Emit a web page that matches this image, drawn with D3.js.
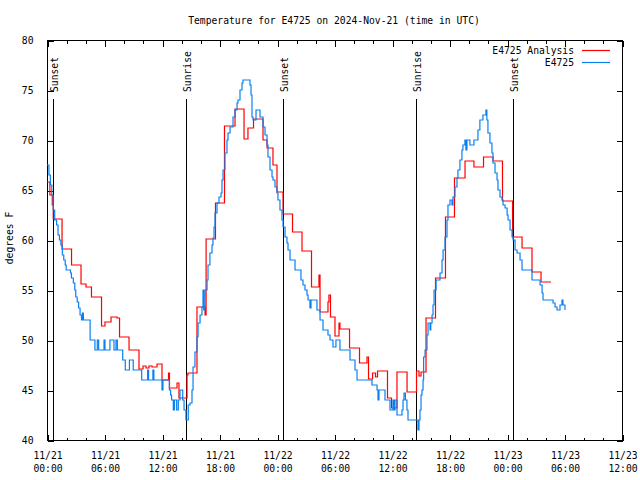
<!DOCTYPE html>
<html>
<head>
<meta charset="utf-8">
<script src="https://cdn.jsdelivr.net/npm/d3@7"></script>
<style>
  html, body { margin: 0; padding: 0; background: #fff; }
  svg { display: block; }
  text { font-family: "DejaVu Sans Mono", "Liberation Mono", monospace; font-size: 9.7px; fill: #000; }
</style>
</head>
<body>
<svg id="chart" width="640" height="480"></svg>
<script>
// Hours since 2024-11-21 00:00 UTC
const obsHours = [0,0.2,0.35,0.5,0.65,0.8,1.0,1.15,1.3,1.45,1.6,1.75,1.9,2.0,2.45,2.55,2.75,2.9,3.0,3.15,3.3,3.45,3.6,3.7,3.8,4.45,4.5,5.0,5.25,5.39,5.95,6.05,6.57,6.99,7.2,7.34,7.9,8.17,8.6,9.0,9.88,10.5,10.6,11.05,11.15,12.0,12.1,12.77,12.9,13.0,13.18,13.29,13.53,13.7,13.88,14.16,14.3,14.5,14.74,14.92,15.13,15.24,15.44,15.65,15.76,15.97,16.17,16.28,16.35,16.49,16.7,16.8,17.0,17.22,17.32,17.43,17.53,17.74,17.95,18.16,18.26,18.37,18.57,18.78,18.89,19.1,19.41,19.62,19.83,19.93,20.14,20.35,20.45,21.18,21.29,21.39,21.5,21.81,22.23,22.54,22.75,22.96,23.06,23.27,23.48,23.58,23.79,24.0,24.1,24.31,24.52,24.63,24.84,25.04,25.15,25.36,25.88,26.5,26.71,26.92,27.13,27.24,27.44,27.55,28.17,28.49,28.8,29.32,29.53,29.84,30.15,30.57,31.62,32.14,32.35,33.91,34.44,34.54,34.64,35.27,35.79,36.1,36.2,36.31,36.52,37.04,37.15,37.25,37.4,37.56,37.67,38.71,38.82,38.92,39.03,39.13,39.24,39.3,39.45,39.65,39.76,39.97,40.05,40.18,40.28,40.39,40.6,41.01,41.22,41.33,41.53,41.74,41.84,42.05,42.26,42.36,42.57,42.78,42.88,43.09,43.3,43.4,43.61,43.71,43.82,44.13,44.55,44.97,45.17,45.49,45.8,45.9,46.01,46.22,46.43,46.54,46.75,46.96,47.06,47.27,47.48,47.59,47.8,48.01,48.11,48.32,48.53,48.63,48.84,49.05,49.36,49.57,50.61,51.45,51.66,51.76,52.8,53.01,53.22,53.53,53.74,53.84,54.05];
const obsTemps = [67.5,66.5,65.5,64.5,63,62,61.5,60.5,60,59.5,58.5,58,57.5,57,56.7,56.2,55.7,55,54.3,53.8,53.2,52.5,52,52.7,52,52,50,49,50,49,50,49,50,49,50,49,48,47,48,47,46,47,46,47,46,45,46,45,44.5,44,43,44,43,44,45,44,43,42,43.5,43.7,45,47.3,48.8,50.3,51.7,52.5,53.3,55,53,55,56,57.5,58.7,59.5,60.2,61.3,62.7,63.7,64.3,64.7,66,67,68.7,70,70.7,71.3,72.3,73,73.7,74,75,75.7,76,75.5,74.5,72.3,72,73,72.3,71.3,70.5,69.5,68.3,67,66.3,66,65.3,64.7,64,63,62,61.3,60.3,59.7,59,58,57,56,55.5,55,54.5,54,53.2,54,53,52,51,50.5,50,49.3,50,49,48,47,46,45.5,45,44,45,44,43,44,43,44,42.5,43,44,44.7,44,43,42,41,42,43,44.5,45,46,48.3,49,50.5,51.7,51,51.7,52.5,53.5,55,56,56.7,58,59,60.3,62,63.5,64,63.5,64.3,65.3,66.2,67,68,69,69.5,70,69,70,69.5,70,71,72,72.5,73,72,70.7,69.7,68.7,67.7,66.7,66,65,64.3,64,63.5,63.2,62.5,62,61,60.3,60,59,58.7,58,57,56,55.5,54.7,54,53.7,53.3,53,53.5,54,53.5,53];

const anaHours = [0,0.3,0.55,0.65,1.57,2.56,3.55,4.07,4.64,5.69,6.05,6.68,7.3,7.57,8.56,9.6,10.02,10.33,10.64,10.96,11.48,12.0,12.68,12.78,13.57,13.77,14.61,14.71,15.65,16.49,16.6,17.58,18.52,19.62,20.56,20.97,21.55,22.54,22.96,23.58,24.0,24.63,25.62,26.61,27.6,28.38,28.49,29.32,29.42,29.58,30.05,30.47,30.57,31.57,32.61,33.39,33.55,33.97,34.28,34.49,35.53,35.95,36.52,37.57,38.56,38.82,39.03,39.55,40.54,41.58,42.52,43.62,44.55,45.55,46.54,47.53,48.58,49.57,50.61,51.55,52.6];
const anaTemps = [65.8,64.5,63.5,62.1,59.1,57.5,55.6,55.3,54.3,51.4,51.8,52.3,52.2,50.3,49,47.1,47.4,47.2,47.4,47.3,47.6,46,46.7,45.2,45.7,44.2,46.5,46.7,53.3,52.5,60.1,63.7,71.4,73.1,70.1,71.2,72.1,70,69.2,67.5,64.8,62.6,60.8,58.9,55.3,56.5,52.8,53.8,54.5,52.3,50.4,51.7,51.1,49.2,47.7,48.3,46.1,46.7,46.3,46.9,44.2,43.2,46.8,44.8,46.9,46.4,46.8,52.2,56.2,62.3,66.2,67.9,67.3,68.3,67.9,63.9,60.3,59.2,56.8,55.8,55.8];

const sunHours = [0.63, 14.5, 24.63, 38.5, 48.63];
const sunLabels = ["Sunset", "Sunrise", "Sunset", "Sunrise", "Sunset"];

const xTickHours = [0, 6, 12, 18, 24, 30, 36, 42, 48, 54, 60];
const xTickDates = ["11/21","11/21","11/21","11/21","11/22","11/22","11/22","11/22","11/23","11/23","11/23"];
const xTickTimes = ["00:00","06:00","12:00","18:00","00:00","06:00","12:00","18:00","00:00","06:00","12:00"];
const xMinorHours = [2,4,8,10,14,16,20,22,26,28,32,34,38,40,44,46,50,52,56,58];
const yTicks = [40, 45, 50, 55, 60, 65, 70, 75, 80];

const titleText = "Temperature for E4725 on 2024-Nov-21 (time in UTC)";
const yLabelText = "degrees F";
const seriesNames = ["E4725 Analysis", "E4725"];
const seriesColors = ["#ff0000", "#0a80f0"];

const L = 47, R = 622, T = 40, B = 440;
const svg = d3.select("#chart");

const x = d3.scaleLinear().domain([0, 60]).range([L, R]);
const y = d3.scaleLinear().domain([40, 80]).range([B, T]);

// Title
svg.append("text").attr("x", 334).attr("y", 24).attr("text-anchor", "middle").text(titleText);

// Y label
svg.append("text")
  .attr("transform", `translate(9,238) rotate(-90)`)
  .attr("text-anchor", "middle").attr("dominant-baseline", "central")
  .text(yLabelText);

// Axes (ticks inward, mirrored)
const gx = svg.append("g").attr("transform", `translate(0.5,${B + 0.5})`).attr("shape-rendering", "crispEdges");
gx.call(d3.axisBottom(x).tickValues(xTickHours).tickSize(-6).tickSizeOuter(0).tickFormat(""));
gx.select(".domain").remove();
gx.selectAll(".tick").each(function (d, i) {
  const t = d3.select(this).append("text").attr("text-anchor", "middle").attr("fill", "#000");
  t.append("tspan").attr("x", 0).attr("y", 18.5).text(xTickDates[i]);
  t.append("tspan").attr("x", 0).attr("y", 31.5).text(xTickTimes[i]);
});
const gxm = svg.append("g").attr("transform", `translate(0.5,${B + 0.5})`).attr("shape-rendering", "crispEdges");
gxm.call(d3.axisBottom(x).tickValues(xMinorHours).tickSize(-3).tickSizeOuter(0).tickFormat(""));
gxm.select(".domain").remove();

const gxt = svg.append("g").attr("transform", `translate(0.5,${T + 0.5})`).attr("shape-rendering", "crispEdges");
gxt.call(d3.axisTop(x).tickValues(xTickHours).tickSize(-6).tickSizeOuter(0).tickFormat(""));
gxt.select(".domain").remove();
const gxtm = svg.append("g").attr("transform", `translate(0.5,${T + 0.5})`).attr("shape-rendering", "crispEdges");
gxtm.call(d3.axisTop(x).tickValues(xMinorHours).tickSize(-3).tickSizeOuter(0).tickFormat(""));
gxtm.select(".domain").remove();

const gy = svg.append("g").attr("transform", `translate(${L + 0.5},0.5)`).attr("shape-rendering", "crispEdges");
gy.call(d3.axisLeft(y).tickValues(yTicks).tickSize(-6).tickSizeOuter(0).tickPadding(14).tickFormat(d3.format("d")));
gy.select(".domain").remove();
gy.selectAll(".tick text").attr("fill", "#000").style("font-size", "9.7px").style("font-family", "DejaVu Sans Mono, monospace");

const gyr = svg.append("g").attr("transform", `translate(${R + 0.5},0.5)`).attr("shape-rendering", "crispEdges");
gyr.call(d3.axisRight(y).tickValues(yTicks).tickSize(-6).tickSizeOuter(0).tickFormat(""));
gyr.select(".domain").remove();

// Border
svg.append("rect").attr("x", L + 0.5).attr("y", T + 0.5).attr("width", R - L).attr("height", B - T)
  .attr("fill", "none").attr("stroke", "#000").attr("stroke-width", 1).attr("shape-rendering", "crispEdges");

// Sun lines
const sunG = svg.append("g");
sunHours.forEach((h, i) => {
  const xp = Math.round(x(h)) + 0.5;
  sunG.append("line").attr("x1", xp).attr("x2", xp).attr("y1", 99).attr("y2", B)
    .attr("stroke", "#000").attr("stroke-width", 1).attr("shape-rendering", "crispEdges");
  sunG.append("text")
    .attr("transform", `translate(${xp + 0.5},92) rotate(-90)`)
    .attr("text-anchor", "start").attr("dominant-baseline", "central")
    .text(sunLabels[i]);
});

// Series
const line = d3.line().curve(d3.curveStepAfter).x(d => x(d[0])).y(d => y(d[1]));
const anaData = anaHours.map((h, i) => [h, anaTemps[i]]);
const obsData = obsHours.map((h, i) => [h, obsTemps[i]]);
svg.append("path").datum(anaData).attr("d", line).attr("fill", "none")
  .attr("stroke", seriesColors[0]).attr("stroke-width", 1.2);
svg.append("path").datum(obsData).attr("d", line).attr("fill", "none")
  .attr("stroke", seriesColors[1]).attr("stroke-width", 1.2);

// Legend
const legY = [50, 62];
seriesNames.forEach((n, i) => {
  svg.append("text").attr("x", 574).attr("y", legY[i]).attr("text-anchor", "end")
    .attr("dominant-baseline", "central").text(n);
  svg.append("line").attr("x1", 582).attr("x2", 610).attr("y1", legY[i] + 0.5).attr("y2", legY[i] + 0.5)
    .attr("stroke", seriesColors[i]).attr("stroke-width", 1.2);
});
</script>
</body>
</html>
